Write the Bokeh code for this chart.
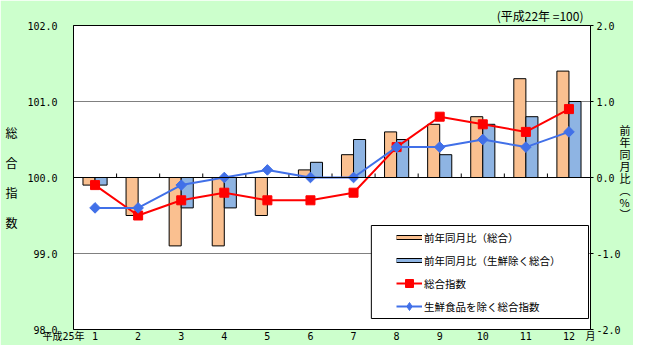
import numpy as np
from bokeh.plotting import figure
from bokeh.models import (Range1d, LinearAxis, FixedTicker, ColumnDataSource, Span,
                          Legend, LegendItem, BoxAnnotation, NumeralTickFormatter)
from bokeh.transform import dodge
from bokeh.embed import file_html
from bokeh.resources import INLINE

# ---------------- data ----------------
months = [1, 2, 3, 4, 5, 6, 7, 8, 9, 10, 11, 12]
month_labels = ["1", "2", "3", "4", "5", "6", "7", "8", "9", "10", "11", "12"]
yoy_total = [-0.1, -0.5, -0.9, -0.9, -0.5, 0.1, 0.3, 0.6, 0.7, 0.8, 1.3, 1.4]
yoy_core = [-0.1, 0.0, -0.4, -0.4, 0.0, 0.2, 0.5, 0.5, 0.3, 0.7, 0.8, 1.0]
index_total = [99.9, 99.5, 99.7, 99.8, 99.7, 99.7, 99.8, 100.4, 100.8, 100.7, 100.6, 100.9]
index_core = [99.6, 99.6, 99.9, 100.0, 100.1, 100.0, 100.0, 100.4, 100.4, 100.5, 100.4, 100.6]
left_ticks = [98, 99, 100, 101, 102]
right_ticks = [-2, -1, 0, 1, 2]
series_names = ["前年同月比（総合）", "前年同月比（生鮮除く総合）", "総合指数", "生鮮食品を除く総合指数"]
year_label = "平成25年"
month_unit = "月"
base_note = "(平成22年 =100)"
left_title = "総合指数"
right_title = ["前", "年", "同", "月", "比", "︵", "%", "︶"]

ORANGE = "#FAC090"
BLUE_BAR = "#8EB4E3"
RED = "#FF0000"
BLUE = "#4170E8"
BG = "#CCFFCC"
JP = "Noto Sans CJK JP"
NUM = "DejaVu Sans Mono"
NUMJP = "'DejaVu Sans Mono', 'Noto Sans CJK JP'"

# ---------------- layout (canvas px) ----------------
W, H = 633, 345
FL, FR, FT, FB = 73, 592, 25, 329  # frame edges
XMIN, XMAX = months[0] - 0.5, months[-1] + 0.5
YMIN, YMAX = left_ticks[0], left_ticks[-1]


def px2x(px):
    return XMIN + (px - FL) * (XMAX - XMIN) / (FR - FL)


def py2y(py):
    return YMAX - (py - FT) * (YMAX - YMIN) / (FB - FT)


p = figure(width=W, height=H, x_range=Range1d(XMIN, XMAX), y_range=Range1d(YMIN, YMAX),
           output_backend="svg", toolbar_location=None,
           min_border_left=FL, min_border_right=W - FR, min_border_top=FT,
           min_border_bottom=H - FB,
           background_fill_color="white", border_fill_color=BG,
           outline_line_color="black", outline_line_width=1)
p.extra_y_ranges = {"pct": Range1d(right_ticks[0], right_ticks[-1])}

# title (base year note), right aligned
p.title.text = base_note
p.title.align = "right"
p.title.text_font = JP
p.title.text_font_size = "12px"
p.title.text_font_style = "normal"
p.title.text_color = "black"
p.title.standoff = 4
p.title.offset = 7

# x axis (months plus year label at left edge and unit at right edge)
xa = p.xaxis[0]
xa.ticker = FixedTicker(ticks=[XMIN] + months + [XMAX])
overrides = {m: s for m, s in zip(months, month_labels)}
overrides[XMIN] = year_label + "\u3000\u3000"
overrides[XMAX] = month_unit
xa.major_label_overrides = overrides
xa.axis_line_color = None
xa.major_tick_line_color = None
xa.major_tick_out = 0
xa.major_tick_in = 0
xa.minor_tick_line_color = None
xa.minor_tick_out = 0
xa.major_label_standoff = 1
xa.major_label_text_font = NUMJP
xa.major_label_text_font_size = "10px"
xa.major_label_text_color = "black"

# left axis
ya = p.yaxis[0]
ya.ticker = FixedTicker(ticks=left_ticks)
ya.formatter = NumeralTickFormatter(format="0.0")
ya.major_tick_out = 0
ya.major_tick_in = 0
ya.minor_tick_line_color = None
ya.minor_tick_out = 0
ya.axis_line_color = "black"
ya.major_label_standoff = 16
ya.major_label_text_font = NUM
ya.major_label_text_font_size = "10px"
ya.major_label_text_color = "black"
ya.axis_label = "\n".join(left_title)
ya.axis_label_orientation = "horizontal"
ya.axis_label_standoff = 7
ya.axis_label_text_font = JP
ya.axis_label_text_font_size = "12px"
ya.axis_label_text_font_style = "normal"
ya.axis_label_text_color = "black"
ya.axis_label_text_line_height = 1.75

# right axis
ra = LinearAxis(y_range_name="pct", ticker=FixedTicker(ticks=right_ticks),
                formatter=NumeralTickFormatter(format="0.0"))
ra.major_tick_out = 3
ra.major_tick_in = 0
ra.minor_tick_line_color = None
ra.minor_tick_out = 0
ra.axis_line_color = "black"
ra.major_label_standoff = 3
ra.major_label_text_font = NUM
ra.major_label_text_font_size = "10px"
ra.major_label_text_color = "black"
ra.axis_label = "\n".join(right_title + [""])
ra.axis_label_orientation = "horizontal"
ra.axis_label_standoff = -4
ra.axis_label_text_font = JP
ra.axis_label_text_font_size = "11px"
ra.axis_label_text_font_style = "normal"
ra.axis_label_text_color = "black"
ra.axis_label_text_line_height = 0.75
p.add_layout(ra, "right")

p.xgrid.visible = False
p.ygrid.ticker = FixedTicker(ticks=[t for t in left_ticks[1:-1] if t != 100])
p.ygrid.grid_line_color = "#808080"
p.ygrid.grid_line_width = 1

src = ColumnDataSource(dict(month=months, yoy_total=yoy_total, yoy_core=yoy_core,
                            index_total=index_total, index_core=index_core))

# bars
p.vbar(x=dodge("month", -0.14), top="yoy_total", bottom=0, width=0.28, source=src,
       y_range_name="pct", fill_color=ORANGE, line_color="black", line_width=1)
p.vbar(x=dodge("month", 0.14), top="yoy_core", bottom=0, width=0.28, source=src,
       y_range_name="pct", fill_color=BLUE_BAR, line_color="black", line_width=1)

# zero / 100 line and category-boundary ticks
p.add_layout(Span(location=100, dimension="width", line_color="black", line_width=1))
bounds = [m + 0.5 for m in months[:-1]]
tick_len = 4 * (YMAX - YMIN) / (FB - FT)
p.segment(x0=bounds, x1=bounds, y0=[100] * len(bounds), y1=[100 + tick_len] * len(bounds),
          line_color="black", line_width=1)

# lines
r_red_l = p.line("month", "index_total", source=src, line_color=RED, line_width=2)
r_red_m = p.scatter("month", "index_total", source=src, marker="square", size=9,
                    fill_color=RED, line_color=RED)
r_blue_l = p.line("month", "index_core", source=src, line_color=BLUE, line_width=2)
r_blue_m = p.scatter("month", "index_core", source=src, marker="square", angle=np.pi / 4,
                     size=7.5, fill_color=BLUE, line_color=BLUE)

# legend-only swatches (no visible data)
nan = [float("nan")]
r_o_b = p.line(x=nan, y=nan, line_color="black", line_width=5)
r_o_f = p.line(x=nan, y=nan, line_color=ORANGE, line_width=3)
r_b_b = p.line(x=nan, y=nan, line_color="black", line_width=5)
r_b_f = p.line(x=nan, y=nan, line_color=BLUE_BAR, line_width=3)
r_b_d = p.scatter(x=nan, y=nan, marker="diamond", size=10, fill_color=BLUE, line_color=BLUE)

# legend box
p.add_layout(BoxAnnotation(left=px2x(372), right=px2x(590), top=py2y(225), bottom=py2y(318),
                           fill_color="white", fill_alpha=1, line_color="black", line_alpha=1,
                           line_width=1))

legend = Legend(items=[
    LegendItem(label=series_names[0], renderers=[r_o_b, r_o_f]),
    LegendItem(label=series_names[1], renderers=[r_b_b, r_b_f]),
    LegendItem(label=series_names[2], renderers=[r_red_l, r_red_m]),
    LegendItem(label=series_names[3], renderers=[r_blue_l, r_b_d]),
], location=(323, 13), border_line_color=None, background_fill_alpha=0, padding=0, margin=0,
    spacing=3, glyph_width=26, glyph_height=20, label_height=20, label_standoff=2,
    label_text_font=JP, label_text_font_size="10.5px", label_text_color="black")
p.add_layout(legend, "center")

open("out.html", "w").write(file_html(p, INLINE))
